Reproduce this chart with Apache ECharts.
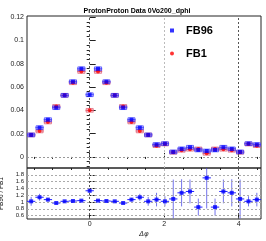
<!DOCTYPE html>
<html><head><meta charset="utf-8">
<script src="https://cdn.jsdelivr.net/npm/echarts@6/dist/echarts.min.js"></script>
<style>html,body{margin:0;padding:0;background:#fff}#c{width:266px;height:241px}</style>
</head><body><div id="c"></div>
<script>
const phi = [-1.571,-1.346,-1.122,-0.898,-0.673,-0.449,-0.224,0,0.224,0.449,0.673,0.898,1.122,1.346,1.571,1.795,2.020,2.244,2.468,2.693,2.917,3.142,3.366,3.590,3.815,4.039,4.264,4.488];
const binHalf = 0.112;
const fb96 = [0.0189,0.0251,0.0320,0.0423,0.0529,0.0646,0.0757,0.0534,0.0757,0.0646,0.0529,0.0423,0.0320,0.0251,0.0189,0.0106,0.0114,0.0043,0.0069,0.0083,0.0060,0.0051,0.0060,0.0083,0.0069,0.0043,0.0114,0.0106];
const fb1 = [0.0189,0.0223,0.0300,0.0434,0.0529,0.0637,0.0734,0.0400,0.0734,0.0637,0.0529,0.0434,0.0300,0.0223,0.0189,0.0097,0.0111,0.0040,0.0057,0.0066,0.0069,0.0031,0.0069,0.0066,0.0057,0.0040,0.0111,0.0097];
const sysErr = 0.0016;
const ratio = [1.02,1.14,1.07,0.97,1.02,1.03,1.04,1.33,1.04,1.03,1.02,0.97,1.07,1.14,1.02,1.07,1.02,1.09,1.27,1.31,0.85,1.71,0.85,1.31,1.27,1.09,1.02,1.07];
const ratioErr = [0.13,0.10,0.05,0.03,0.02,0.02,0.02,0.05,0.02,0.02,0.02,0.03,0.05,0.10,0.13,0.20,0.15,0.57,0.40,0.35,0.25,0.90,0.25,0.35,0.40,0.57,0.15,0.20];
const upperLabels = [0,0.02,0.04,0.06,0.08,0.1,0.12];
const upperMinor = [-0.008,-0.004,0.004,0.008,0.012,0.016,0.024,0.028,0.032,0.036,0.044,0.048,0.052,0.056,0.064,0.068,0.072,0.076,0.084,0.088,0.092,0.096,0.104,0.108,0.112,0.116];
const lowerLabels = [0.6,0.8,1,1.2,1.4,1.6,1.8];
const xLabels = [0,2,4];
const xMinor = [-1.5,-1,-0.5,0.5,1,1.5,2.5,3,3.5,4.5];

const chart = echarts.init(document.getElementById('c'), null, {renderer:'canvas'});
const FONT = 'Liberation Sans';
const X0 = -1.683, X1 = 4.600;

function boxSeries(vals, fill, stroke, z){
  return {
    type:'custom', xAxisIndex:0, yAxisIndex:0, z:z, silent:true,
    data: phi.map((p,i)=>[p, vals[i]]),
    renderItem:(params, api)=>{
      const x = api.value(0), y = api.value(1);
      const a = api.coord([x-binHalf*0.85, y+sysErr]);
      const b = api.coord([x+binHalf*0.85, y-sysErr]);
      const l = api.coord([x-binHalf, y]);
      const r = api.coord([x+binHalf, y]);
      return {type:'group', children:[
        {type:'rect', shape:{x:a[0], y:a[1], width:b[0]-a[0], height:b[1]-a[1]}, style:{fill:fill, stroke:stroke, lineWidth:0.8}},
        {type:'line', shape:{x1:l[0], y1:l[1], x2:r[0], y2:r[1]}, style:{stroke:stroke, lineWidth:1}}
      ]};
    }
  };
}

const option = {
  animation:false,
  title:{text:'ProtonProton Data 0Vo200_dphi', left:132, top:3, textAlign:'center',
    textStyle:{fontFamily:FONT, fontSize:7, fontWeight:'bold', color:'#000'}},
  legend:{orient:'vertical', left:165, top:20, itemGap:12, itemWidth:4, itemHeight:4,
    data:[{name:'FB96', icon:'rect'},{name:'FB1', icon:'circle'}],
    textStyle:{fontFamily:FONT, fontSize:11, fontWeight:'bold', color:'#000', padding:[0,0,0,7]}},
  grid:[
    {left:27, right:5, top:16, height:152, containLabel:false, outerBoundsMode:'none', show:true, borderColor:'#222', borderWidth:1, backgroundColor:'transparent'},
    {left:27, right:5, top:168, height:51, containLabel:false, outerBoundsMode:'none', show:true, borderColor:'#222', borderWidth:1, backgroundColor:'transparent'}
  ],
  xAxis:[
    {type:'value', gridIndex:0, min:X0, max:X1,
      axisLine:{show:false}, axisLabel:{show:false},
      axisTick:{show:true, inside:true, length:4, customValues:xLabels, lineStyle:{color:'#222'}},
      splitLine:{show:false}},
    {type:'value', gridIndex:1, min:X0, max:X1,
      name:'Δφ', nameLocation:'middle', nameGap:12,
      nameTextStyle:{fontFamily:'DejaVu Sans', fontSize:7, color:'#222', fontStyle:'italic'},
      axisLine:{show:false},
      axisLabel:{show:true, customValues:xLabels, fontFamily:FONT, fontSize:7, color:'#222', margin:2},
      axisTick:{show:true, inside:true, length:4, customValues:xLabels, lineStyle:{color:'#222'}},
      splitLine:{show:false}},
    {type:'value', gridIndex:0, min:X0, max:X1, show:true,
      axisLine:{show:false}, axisLabel:{show:false},
      axisTick:{show:true, inside:true, length:2, customValues:xMinor, lineStyle:{color:'#222'}}, splitLine:{show:false}},
    {type:'value', gridIndex:1, min:X0, max:X1, show:true,
      axisLine:{show:false}, axisLabel:{show:false},
      axisTick:{show:true, inside:true, length:2, customValues:xMinor, lineStyle:{color:'#222'}}, splitLine:{show:false}}
  ],
  yAxis:[
    {type:'value', gridIndex:0, min:-0.0095, max:0.121,
      name:'B(Δφ)', nameLocation:'middle', nameGap:16, nameRotate:90,
      nameTextStyle:{fontFamily:FONT, fontSize:7, color:'#222'},
      axisLine:{show:false},
      axisLabel:{customValues:upperLabels, fontFamily:FONT, fontSize:7, color:'#222', margin:3},
      axisTick:{show:true, inside:true, length:6, customValues:upperLabels, lineStyle:{color:'#222'}},
      splitLine:{show:false}},
    {type:'value', gridIndex:1, min:0.5, max:2.0,
      name:'FB96 / FB1', nameLocation:'middle', nameGap:16, nameRotate:90,
      nameTextStyle:{fontFamily:FONT, fontSize:6.5, color:'#222'},
      axisLine:{show:false},
      axisLabel:{customValues:lowerLabels, fontFamily:FONT, fontSize:6, color:'#222', margin:3},
      axisTick:{show:true, inside:true, length:5, customValues:lowerLabels, lineStyle:{color:'#222'}},
      splitLine:{show:false}},
    {type:'value', gridIndex:0, min:-0.0095, max:0.121, show:true,
      axisLine:{show:false}, axisLabel:{show:false},
      axisTick:{show:true, inside:true, length:3, customValues:upperMinor, lineStyle:{color:'#222'}}, splitLine:{show:false}}
  ],
  series:[
    {type:'line', xAxisIndex:0, yAxisIndex:0, data:[], silent:true,
      markLine:{symbol:'none', silent:true, label:{show:false},
        data:[
          {xAxis:0, lineStyle:{color:'#555', type:[2,2], width:1}},
          {xAxis:2, lineStyle:{color:'#bbb', type:[2,2], width:1}},
          {xAxis:4, lineStyle:{color:'#555', type:[2,2], width:1}},
          {yAxis:0, lineStyle:{color:'#999', type:[2,2], width:1}}
        ]}},
    {type:'line', xAxisIndex:1, yAxisIndex:1, data:[], silent:true,
      markLine:{symbol:'none', silent:true, label:{show:false},
        data:[
          {xAxis:0, lineStyle:{color:'#555', type:[2,2], width:1}},
          {xAxis:2, lineStyle:{color:'#bbb', type:[2,2], width:1}},
          {xAxis:4, lineStyle:{color:'#555', type:[2,2], width:1}}
        ].concat(lowerLabels.map(v=>({yAxis:v, lineStyle:{color:'#aaa', type:[2,2], width:1}})))}},
    boxSeries(fb1, 'rgba(230,150,170,0.45)', 'rgba(220,80,100,0.8)', 3),
    boxSeries(fb96, 'rgba(150,150,255,0.45)', 'rgba(60,60,255,0.9)', 4),
    {name:'FB1', type:'scatter', xAxisIndex:0, yAxisIndex:0, symbol:'circle', symbolSize:4, z:5,
      itemStyle:{color:'#ff0000'}, data:phi.map((p,i)=>[p, fb1[i]])},
    {name:'FB96', type:'scatter', xAxisIndex:0, yAxisIndex:0, symbol:'rect', symbolSize:4, z:6,
      itemStyle:{color:'#0000ff'}, data:phi.map((p,i)=>[p, fb96[i]])},
    {type:'custom', xAxisIndex:1, yAxisIndex:1, z:4, silent:true, clip:true,
      data: phi.map((p,i)=>[p, ratio[i], ratioErr[i]]),
      renderItem:(params, api)=>{
        const x = api.value(0), y = api.value(1), e = api.value(2);
        const l = api.coord([x-binHalf, y]);
        const r = api.coord([x+binHalf, y]);
        const t = api.coord([x, y+e]);
        const b = api.coord([x, y-e]);
        const cs = params.coordSys;
        const top = Math.max(t[1], cs.y), bot = Math.min(b[1], cs.y+cs.height);
        return {type:'group', children:[
          {type:'line', shape:{x1:t[0], y1:top, x2:b[0], y2:bot}, style:{stroke:'rgba(70,70,230,0.75)', lineWidth:1}},
          {type:'line', shape:{x1:l[0], y1:l[1], x2:r[0], y2:r[1]}, style:{stroke:'#2020ff', lineWidth:1}}
        ]};
      }},
    {type:'scatter', xAxisIndex:1, yAxisIndex:1, symbol:'rect', symbolSize:4, z:6,
      itemStyle:{color:'#0000ff'}, data:phi.map((p,i)=>[p, ratio[i]])}
  ]
};
chart.setOption(option);
</script></body></html>
